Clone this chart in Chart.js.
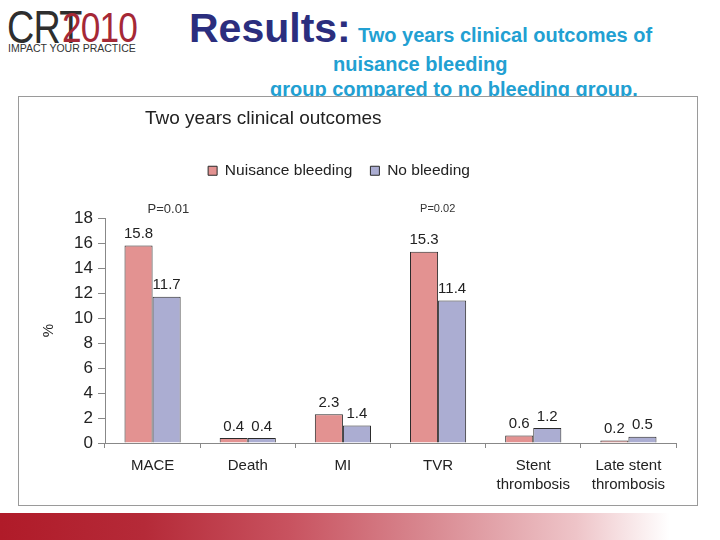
<!DOCTYPE html>
<html><head><meta charset="utf-8">
<script src="https://cdn.jsdelivr.net/npm/chart.js@4/dist/chart.umd.min.js"></script>
<style>
html,body{margin:0;padding:0;background:#fff;width:720px;height:540px;overflow:hidden;font-family:"Liberation Sans",Arial,sans-serif;}
#logo{position:absolute;left:0;top:0;width:170px;height:60px;}
#crt{position:absolute;left:7px;top:0px;font:400 46px "Liberation Sans";color:#2e2e2e;letter-spacing:-1px;transform:scaleX(0.82);transform-origin:left top;}
#y2010{position:absolute;left:62px;top:3px;font:400 43px "Liberation Sans";color:#a52836;letter-spacing:-1px;transform:scaleX(0.82);transform-origin:left top;}
#impact{position:absolute;left:8px;top:42px;font:10.5px "Liberation Sans";color:#333;}
#results{position:absolute;left:189px;top:5px;font:bold 41px "Liberation Sans";color:#2b2e7e;white-space:nowrap;}
#sub1{position:absolute;left:358px;top:24px;font:bold 20px "Liberation Sans";color:#22a0d2;white-space:nowrap;}
#sub2{position:absolute;left:333px;top:53px;font:bold 20px "Liberation Sans";color:#22a0d2;white-space:nowrap;}
#sub3{position:absolute;left:270px;top:78px;font:bold 20px "Liberation Sans";color:#22a0d2;white-space:nowrap;}
#panel{position:absolute;left:18px;top:96px;width:678px;height:408px;border:1px solid #9a9a9a;background:#fff;z-index:2;}
#ctitle{position:absolute;left:126px;top:10px;font:19px "Liberation Sans";color:#222;white-space:nowrap;z-index:3;}
#band{position:absolute;left:0;top:513px;width:720px;height:27px;background:linear-gradient(to right,#b01b29 0%,#b52a38 20%,#c8525f 40%,#d98a92 60%,#eec4c8 80%,#fff 93%);}
canvas{display:block;}
</style></head><body>
<div id="logo"><div id="crt">CRT</div><div id="y2010">2010</div><div id="impact">IMPACT YOUR PRACTICE</div></div>
<div id="results">Results:</div>
<div id="sub1">Two years clinical outcomes of</div>
<div id="sub2">nuisance bleeding</div>
<div id="sub3">group compared to no bleeding group.</div>
<div id="panel"><div id="ctitle">Two years clinical outcomes</div><canvas id="c" width="678" height="408"></canvas></div>
<div id="band"></div>
<script>
const categories = [["MACE"],["Death"],["MI"],["TVR"],["Stent","thrombosis"],["Late stent","thrombosis"]];
const nuisanceBleeding = [15.8, 0.4, 2.3, 15.3, 0.6, 0.2];
const noBleeding = [11.7, 0.4, 1.4, 11.4, 1.2, 0.5];
const pValues = ["P=0.01", null, null, "P=0.02", null, null];
const yTicks = [0,2,4,6,8,10,12,14,16,18];

const FONT = '"Liberation Sans", Arial, sans-serif';
const LEGEND_TOP = 48, PLOT_TOP = 121, LEGEND_SHIFT = -19;

const legendSpacer = {
  id: 'legendSpacer',
  beforeLayout(chart) {
    const lg = chart.legend;
    if (lg && !lg._patched) {
      const orig = lg.fit.bind(lg);
      lg.fit = function () { orig(); this.height = PLOT_TOP - LEGEND_TOP; };
      lg._patched = true;
    }
  },
  afterLayout(chart) {
    const lg = chart.legend;
    if (lg) { lg.left += LEGEND_SHIFT; lg.right += LEGEND_SHIFT; }
  }
};

const labelPlugin = {
  id: 'labels',
  afterDatasetsDraw(chart) {
    const ctx = chart.ctx;
    ctx.save();
    ctx.font = '15px ' + FONT;
    ctx.fillStyle = '#222';
    ctx.textAlign = 'center';
    ctx.textBaseline = 'bottom';
    chart.data.datasets.forEach((ds, di) => {
      const meta = chart.getDatasetMeta(di);
      meta.data.forEach((bar, i) => {
        ctx.fillText(ds.data[i].toFixed(1), bar.x, bar.y - 4);
      });
    });
    const xs = chart.scales.x, ys = chart.scales.y;
    pValues.forEach((p, i) => {
      if (!p) return;
      ctx.font = (i === 0 ? '13px ' : '11px ') + FONT;
      ctx.fillStyle = '#333';
      ctx.textBaseline = 'middle';
      ctx.textAlign = 'left';
      const off = i === 0 ? -5 : -18;
      ctx.fillText(p, xs.getPixelForValue(i) + off, ys.getPixelForValue(18) - 9);
    });
    ctx.restore();
  }
};

new Chart(document.getElementById('c'), {
  type: 'bar',
  data: {
    labels: categories,
    datasets: [
      {label: 'Nuisance bleeding', data: nuisanceBleeding, backgroundColor: '#e39291', borderColor: '#2a2a2a', borderWidth: 1},
      {label: 'No bleeding', data: noBleeding, backgroundColor: '#abadd2', borderColor: '#2a2a2a', borderWidth: 1}
    ]
  },
  options: {
    responsive: false,
    animation: false,
    devicePixelRatio: 1,
    categoryPercentage: 0.59,
    barPercentage: 1,
    layout: {padding: {left: 21, right: 21, top: LEGEND_TOP, bottom: 0}},
    plugins: {
      title: {display: false},
      legend: {display: true, position: 'top',
        labels: {color: '#222', font: {family: FONT, size: 15.5}, boxWidth: 9, boxHeight: 9, padding: 18,
          generateLabels(chart) {
            return chart.data.datasets.map((d, i) => ({text: d.label, fillStyle: d.backgroundColor, strokeStyle: '#2a2a2a', lineWidth: 1, datasetIndex: i, fontColor: '#222'}));
          }}},
      tooltip: {enabled: false}
    },
    scales: {
      x: {
        grid: {display: true, offset: true, drawOnChartArea: false, drawTicks: true, tickLength: 5, color: '#888'},
        border: {display: true, color: '#888'},
        ticks: {color: '#222', font: {family: FONT, size: 15, lineHeight: 1.3}, padding: 8, maxRotation: 0},
        afterFit(s) { s.height = 62; }
      },
      y: {
        min: 0, max: 18,
        afterBuildTicks(s) { s.ticks = yTicks.map(v => ({value: v})); },
        grid: {display: true, drawOnChartArea: false, drawTicks: true, tickLength: 7, color: '#888'},
        border: {display: true, color: '#888'},
        ticks: {color: '#222', font: {family: FONT, size: 17}, padding: 5},
        title: {display: true, text: '%', color: '#222', font: {family: FONT, size: 15}, padding: {top: 0, bottom: 4}},
        afterFit(s) { s.width = 65; }
      }
    }
  },
  plugins: [legendSpacer, labelPlugin]
});
</script>
</body></html>
